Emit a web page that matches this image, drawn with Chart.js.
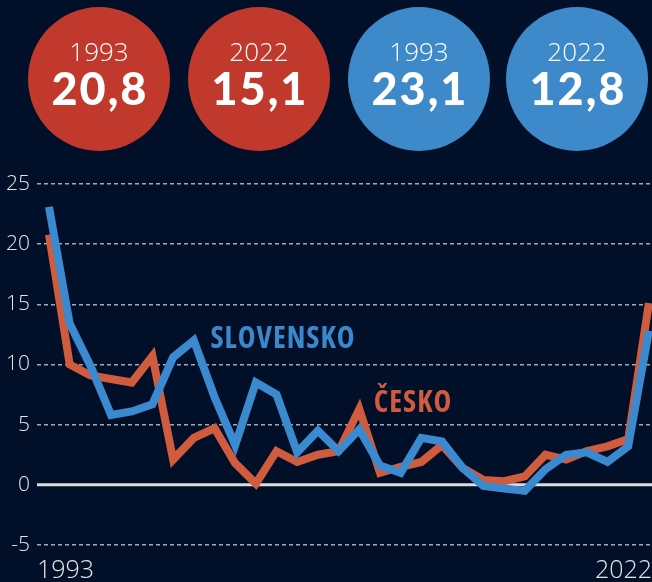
<!DOCTYPE html>
<html><head><meta charset="utf-8">
<script src="https://cdn.jsdelivr.net/npm/chart.js@4"></script>
<style>
html,body{margin:0;padding:0;background:#020f29;}
#wrap{position:relative;width:652px;height:582px;overflow:hidden;background:#020f29;}
#cv{position:absolute;left:0;top:0;}
.circ{position:absolute;width:142px;height:144px;border-radius:50%;color:#fff;text-align:center;}
.yr{position:absolute;left:0;right:0;font-family:'Open Sans';font-weight:300;font-size:26px;line-height:26px;}
.val{position:absolute;left:0;right:0;font-family:Lato;font-weight:900;font-size:45px;line-height:45px;letter-spacing:2px;padding-left:2px;}
.lab{position:absolute;font-family:'Open Sans';font-weight:700;font-size:30px;line-height:30px;letter-spacing:1px;white-space:nowrap;transform:translateX(-50%);font-stretch:semi-condensed;}
</style></head>
<body>
<div id="wrap">
  <canvas id="cv" width="652" height="582"></canvas>
  <div id="badges"></div>
  <div class="lab" style="left:283px;top:322px;color:#3b88cc;">SLOVENSKO</div>
  <div class="lab" style="left:413px;top:386px;color:#d05b3d;">ČESKO</div>
</div>
<script>
const years = [1993,1994,1995,1996,1997,1998,1999,2000,2001,2002,2003,2004,2005,2006,2007,2008,2009,2010,2011,2012,2013,2014,2015,2016,2017,2018,2019,2020,2021,2022];
const cesko = [20.8,10.0,9.1,8.8,8.5,10.7,2.1,3.9,4.7,1.8,0.1,2.8,1.9,2.5,2.8,6.3,1.0,1.5,1.9,3.3,1.4,0.4,0.3,0.7,2.5,2.1,2.8,3.2,3.8,15.1];
const slovensko = [23.1,13.4,9.9,5.8,6.1,6.7,10.6,12.0,7.3,3.3,8.5,7.5,2.7,4.5,2.8,4.6,1.6,1.0,3.9,3.6,1.4,-0.1,-0.3,-0.5,1.3,2.5,2.7,1.9,3.2,12.8];
const yTicks = [-5,0,5,10,15,20,25];
const xTickLabels = ['1993','2022'];

const RED_CIRCLE = '#c0392c', BLUE_CIRCLE = '#3d89c9';
const RED_LINE = '#d05b3d', BLUE_LINE = '#3b89cf';

// badges
const fmt = v => v.toFixed(1).replace('.', ',');
const badgeData = [
  {yr: years[0], v: cesko[0], c: RED_CIRCLE, cx: 99},
  {yr: years[years.length-1], v: cesko[cesko.length-1], c: RED_CIRCLE, cx: 259},
  {yr: years[0], v: slovensko[0], c: BLUE_CIRCLE, cx: 419},
  {yr: years[years.length-1], v: slovensko[slovensko.length-1], c: BLUE_CIRCLE, cx: 577}
];
const bd = document.getElementById('badges');
badgeData.forEach(b => {
  const d = document.createElement('div');
  d.className = 'circ';
  d.style.left = (b.cx - 71) + 'px';
  d.style.top = '7px';
  d.style.background = b.c;
  d.innerHTML = '<div class="yr" style="top:31px">' + b.yr + '</div><div class="val" style="top:59px">' + fmt(b.v) + '</div>';
  bd.appendChild(d);
});

const zeroLine = {
  id: 'zeroLine',
  beforeDatasetsDraw(chart) {
    const {ctx, chartArea, scales} = chart;
    const y = scales.y.getPixelForValue(0);
    ctx.save();
    ctx.strokeStyle = '#dcdcdc';
    ctx.lineWidth = 3;
    ctx.beginPath();
    ctx.moveTo(chartArea.left, y);
    ctx.lineTo(chartArea.right, y);
    ctx.stroke();
    ctx.restore();
  }
};

const XMIN = 1992.42, XMAX = 2022.15;
new Chart(document.getElementById('cv'), {
  type: 'line',
  data: {
    datasets: [
      {label: 'Slovensko', data: years.map((x, i) => ({x, y: slovensko[i]})), borderColor: BLUE_LINE, borderWidth: 8, pointRadius: 0, tension: 0, borderJoinStyle: 'miter', borderCapStyle: 'butt'},
      {label: 'Česko', data: years.map((x, i) => ({x, y: cesko[i]})), borderColor: RED_LINE, borderWidth: 8, pointRadius: 0, tension: 0, borderJoinStyle: 'miter', borderCapStyle: 'butt'}
    ]
  },
  options: {
    responsive: false,
    animation: false,
    devicePixelRatio: 1,
    layout: {padding: {top: 184, left: 0, right: 0, bottom: 0}},
    plugins: {legend: {display: false}, tooltip: {enabled: false}},
    scales: {
      x: {
        type: 'linear', min: XMIN, max: XMAX,
        afterBuildTicks: s => { s.ticks = [{value: XMIN}, {value: XMAX}]; },
        afterFit: s => { s.height = 37; s.paddingLeft = 0; s.paddingRight = 0; },
        grid: {display: false},
        border: {display: false},
        ticks: {
          autoSkip: false, maxRotation: 0, align: 'inner', padding: 3,
          color: '#e6e6e6',
          font: {family: "'Open Sans'", weight: 300, size: 25},
          callback: (v, i) => xTickLabels[i]
        }
      },
      y: {
        min: -5, max: 25,
        afterBuildTicks: s => { s.ticks = yTicks.map(v => ({value: v})); },
        afterFit: s => { s.width = 37; },
        grid: {
          drawTicks: false,
          color: c => (c.tick && c.tick.value === 0) ? 'rgba(0,0,0,0)' : 'rgba(190,195,205,0.85)',
          lineWidth: 1.5
        },
        border: {display: false, dash: [4, 3]},
        ticks: {
          padding: 7, color: '#e6e6e6',
          font: {family: "'Open Sans'", weight: 300, size: 21},
          callback: v => String(v)
        }
      }
    }
  },
  plugins: [zeroLine]
});
</script>
</body></html>
